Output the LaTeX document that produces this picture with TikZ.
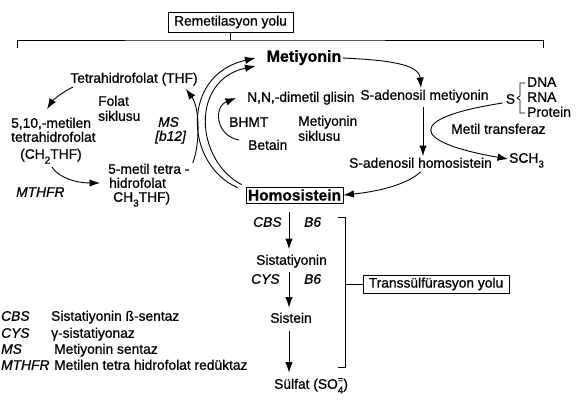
\documentclass[tikz,border=0pt]{standalone}
\usepackage{fontspec}
\setmainfont{Liberation Sans}[FakeBold=0.8]
\usetikzlibrary{arrows.meta}
\newcommand\myfs{\fontsize{13.8}{15}\selectfont}
\newcommand\bigfs{\fontsize{16}{18}\selectfont\bfseries}
\newcommand\hcyfs{\fontsize{15.5}{17}\selectfont\bfseries}
\newcommand\lowsub[1]{\raisebox{-0.35em}{\fontsize{10}{10}\selectfont #1}}
\begin{document}
\begin{tikzpicture}[x=1pt,y=-1pt,
  txt/.style={inner sep=1pt, font=\myfs, text height=10.5pt, text depth=3pt},
  it/.style={txt, font=\myfs\itshape},
  boxed/.style={draw, line width=0.8pt, inner sep=0pt},
  ln/.style={line width=0.9pt},
  arr/.style={line width=0.9pt, -{Latex[length=10.5pt,width=7.5pt]}}]
\useasboundingbox[fill=white] (0,0) rectangle (585,400);

% Remetilasyon bracket
\node[boxed, font=\myfs, minimum width=125pt, minimum height=20pt] (remet) at (230.5,22) {Remetilasyon yolu};
\coordinate (jt) at (230.5,40);
\coordinate (bl) at (17,48);
\coordinate (br) at (543,48);
\draw[ln] (remet.south) -- (jt);
\draw[ln] (bl) |- (jt) -| (br);

% Methionine cycle
\node[txt, font=\bigfs] (met) at (304,58) {Metiyonin};
\node[txt] (sam) at (424.5,96) {S-adenosil metiyonin};
\node[txt] (sah) at (420.5,164) {S-adenosil homosistein};
\node[boxed, font=\hcyfs, minimum width=97pt, minimum height=16pt] (hcy) at (294.5,195) {Homosistein};
\node[txt, anchor=west] (nn) at (246,98) {N,N,-dimetil glisin};
\node[txt, anchor=west] (bhmt) at (228,123) {BHMT};
\node[txt, anchor=west] (bet) at (247,146) {Betain};
\node[txt, anchor=west] (mc1) at (297,122) {Metiyonin};
\node[txt, anchor=west] (mc2) at (297,137) {siklusu};

\draw[arr] (met.east) .. controls +(45,2) and +(-2,-24) .. ([xshift=-3.5pt]sam.north);
\draw[arr, shorten <=3pt] (sam.south -| 423,0) -- (sah.north -| 423,0);
\draw[arr] (sah.south) .. controls +(-15,14) and +(30,-3) .. (hcy.east);

% methyl transfer
\node[txt] (S) at (510.5,100) {S};
\node[txt, anchor=west] (dna) at (526,83) {DNA};
\node[txt, anchor=west] (rna) at (526,98) {RNA};
\node[txt, anchor=west] (prot) at (526,113) {Protein};
\draw[line width=0.8pt] ([xshift=-1pt]dna.west) -- ++(-5,0) -- ++(0,13) -- ++(-3,2) -- ++(3,2) -- ++(0,13) -- ++(5,0);
\node[txt, anchor=west] (mtf) at (450,130) {Metil transferaz};
\node[txt, anchor=west] (sch) at (508,159) {SCH\lowsub{3}};
\draw[arr] ([xshift=-2pt,yshift=-3pt]S.west) .. controls (405,118) and (410,142) .. (sch.west);

% Folate cycle
\node[txt] (thf) at (134,79) {Tetrahidrofolat (THF)};
\node[txt, anchor=west] (fol1) at (97,102) {Folat};
\node[txt, anchor=west] (fol2) at (97,117) {siklusu};
\node[txt, anchor=west] (m1) at (10,124) {5,10,-metilen};
\node[txt, anchor=west] (m2) at (10,138) {tetrahidrofolat};
\node[txt, anchor=west] (m3) at (19,155) {(CH\lowsub{2}THF)};
\node[it, anchor=west] (mthfr) at (15,193) {MTHFR};
\node[txt, anchor=west] (t1) at (107,170) {5-metil tetra -};
\node[txt, anchor=west] (t2) at (108,184) {hidrofolat};
\node[txt, anchor=west] (t3) at (112,198) {CH\lowsub{3}THF)};
\node[it, anchor=west] (ms) at (157,123) {MS};
\node[it, anchor=west] (b12) at (154,137) {[b12]};

\draw[arr] ([xshift=4pt]thf.south west) .. controls +(-11,5) and +(5,-8) .. ([xshift=-4pt,yshift=7pt]m1.north);
\draw[arr] ([xshift=1pt,yshift=-4pt]m3.south) .. controls +(6,10) and +(-25,0) .. ([xshift=-8pt,yshift=1pt]t2.west);
\draw[arr] ([xshift=2pt,yshift=7pt]t1.east) .. controls (200,145) and (200,108) .. ([xshift=-13pt,yshift=-2pt]thf.south east);
\draw[arr] ([xshift=-8pt,yshift=-1pt]hcy.north west) .. controls (185,165) and (180,75) .. ([xshift=-10pt]met.west);
\draw[arr] ([xshift=-4pt,yshift=2pt]hcy.north west) .. controls (195,160) and (190,80) .. ([xshift=-10pt,yshift=-8pt]met.west);
\draw[arr] ([xshift=-8pt,yshift=6pt]bet.west) .. controls (216,136) and (213,107) .. ([xshift=-10pt]nn.west);

% Transsulfuration
\coordinate (col) at (289,0);
\node[it, anchor=west] (cbs) at (252,223) {CBS};
\node[it, anchor=west] (b6a) at (303,223) {B6};
\node[txt] (sis) at (291.5,261) {Sistatiyonin};
\node[it, anchor=west] (cys) at (250,280) {CYS};
\node[it, anchor=west] (b6b) at (303,280) {B6};
\node[txt] (ste) at (291,319) {Sistein};
\node[txt, anchor=west] (sulf) at (273,385) {S\"ulfat (SO\makebox[0pt][l]{\raisebox{0.45em}{\fontsize{9}{9}\selectfont =}}\lowsub{4})};

\draw[arr, shorten <=9pt, shorten >=4pt] (hcy.south -| col) -- (sis.north -| col);
\draw[arr, shorten <=3.5pt, shorten >=3.5pt] (sis.south -| col) -- (ste.north -| col);
\draw[arr, shorten <=4.5pt, shorten >=4.5pt] (ste.south -| col) -- (sulf.north -| col);

\node[boxed, font=\myfs, minimum width=146pt, minimum height=18pt] (tsy) at (436,284) {Transs\"ulf\"urasyon yolu};
\coordinate (bt) at (338,217);
\coordinate (bb) at (338,367);
\draw[ln] (bt) -- ++(7,0) |- (bb);
\draw[ln] (tsy.west) -- (tsy.west -| 345,0);

% Legend
\node[it, anchor=west] (l1a) at (0,317) {CBS};
\node[txt, anchor=west] (l1b) at (50,317) {Sistatiyonin ß-sentaz};
\node[it, anchor=west] (l2a) at (0,334) {CYS};
\node[txt, anchor=west] (l2b) at (50,334) {γ-sistatiyonaz};
\node[it, anchor=west] (l3a) at (0,350) {MS};
\node[txt, anchor=west] (l3b) at (53,350) {Metiyonin sentaz};
\node[it, anchor=west] (l4a) at (0,366) {MTHFR};
\node[txt, anchor=west] (l4b) at (53,366) {Metilen tetra hidrofolat redüktaz};
\end{tikzpicture}
\end{document}
